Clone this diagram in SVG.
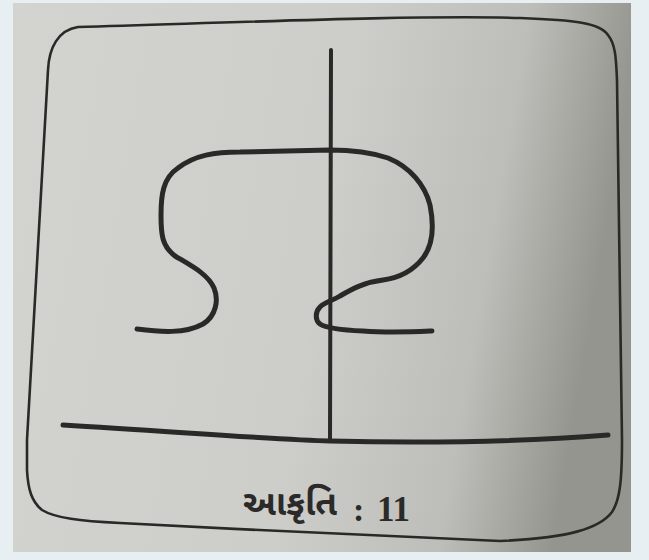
<svg xmlns="http://www.w3.org/2000/svg" width="649" height="560" viewBox="0 0 649 560">
<defs>
<linearGradient id="paper" x1="0" y1="0" x2="1" y2="0.15">
<stop offset="0" stop-color="#d3d4d0"/>
<stop offset="0.55" stop-color="#cdcec9"/>
<stop offset="0.82" stop-color="#bdbeb9"/>
<stop offset="1" stop-color="#95958f"/>
</linearGradient>
<style>
.ink{fill:none;stroke:#2a2927;stroke-linecap:round;stroke-linejoin:round}
.txt{fill:#2b2a28}
</style>
</defs>
<rect x="0" y="0" width="649" height="560" fill="#e7eff3"/>
<rect x="13" y="3" width="618" height="549" fill="url(#paper)"/>
<g id="frame">
<path class="ink" stroke-width="2.6" d="M 78,27 C 250,22 420,15 520,18 C 575,20 600,23 608,35 C 616,45 616,60 617,80 L 622,440 C 622,480 620,500 612,512 C 600,528 570,538 500,541 C 400,537 250,530 120,523 C 80,521 55,518 42,510 C 32,502 28,490 27,470 L 27,440 L 48,70 C 49,48 58,30 78,27 Z"/>
</g>
<g id="ground">
<path class="ink" stroke-width="5" d="M 63,425 C 180,432 280,440 330,441 C 420,443 520,442 608,435"/>
</g>
<g id="axis">
<path class="ink" stroke-width="4" d="M 331,50 L 330,441"/>
</g>
<g id="curve">
<path class="ink" stroke-width="5" d="M 137,329 C 160,332 185,334 203,324 C 216,316 219,300 214,288 C 208,274 190,265 175,256 C 162,246 161,235 161,215 C 161,195 163,178 178,168 C 195,155 215,152 240,152 L 330,150 C 350,150 370,152 388,158 C 410,167 425,185 430,205 C 434,225 433,245 423,258 C 412,272 398,278 383,280 C 365,282 352,289 340,296 C 332,301 325,302 320,307 C 315,312 315,320 320,324 C 326,328 340,330 363,331 C 390,333 410,332 432,331"/>
</g>
<g id="caption">
<text class="txt" x="243" y="515" font-family="'Noto Sans Gujarati','Noto Serif Gujarati','Noto Sans',sans-serif" font-size="35" font-weight="bold">આકૃતિ</text>
<text class="txt" x="353" y="521" font-family="'Liberation Serif',serif" font-size="34" font-weight="bold">:</text>
<text class="txt" x="377" y="521" font-family="'Liberation Serif',serif" font-size="35" font-weight="bold">11</text>
</g>
</svg>
